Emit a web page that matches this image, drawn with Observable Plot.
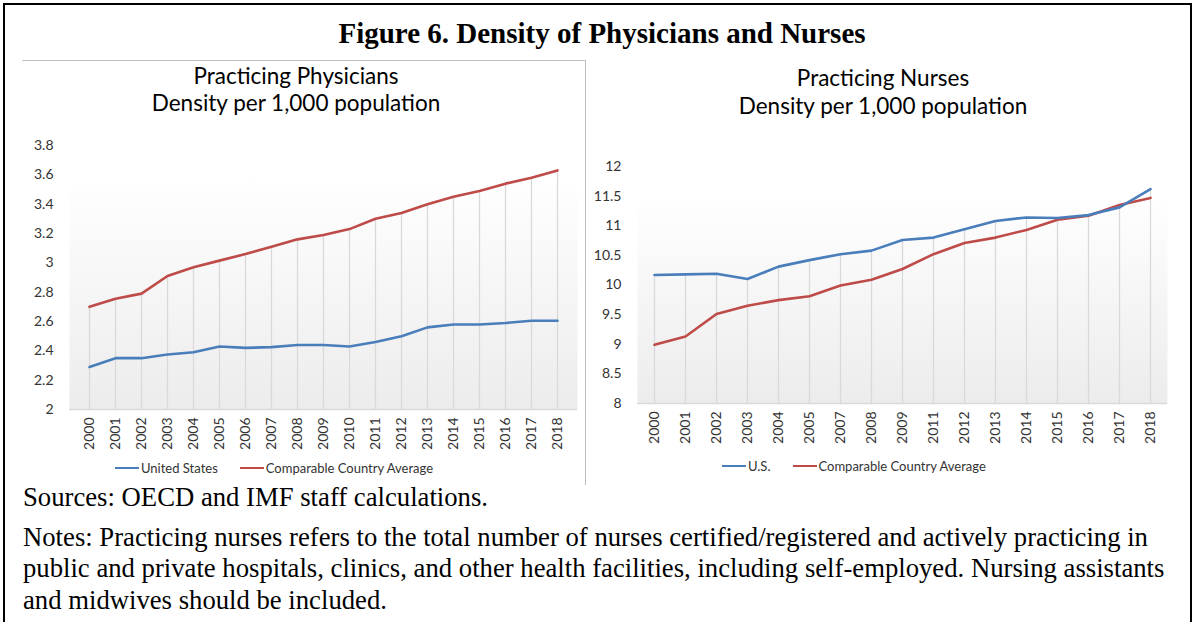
<!DOCTYPE html>
<html><head><meta charset="utf-8">
<script src="https://cdn.jsdelivr.net/npm/d3@7"></script>
<script src="https://cdn.jsdelivr.net/npm/@observablehq/plot@0.6"></script>
<style>
body{margin:0;background:#fff;}
#root{position:relative;width:1194px;height:622px;overflow:hidden;font-family:Lato,"Open Sans",sans-serif;background:#fff;}
.abs{position:absolute;}
.frame{position:absolute;left:3px;top:3px;width:1185px;height:660px;border:2.5px solid #000;}
.title{font-family:"Liberation Serif","Times New Roman",serif;font-weight:bold;font-size:29px;line-height:30px;text-align:center;color:#000;white-space:nowrap;}
.sub{font-size:22.5px;text-align:center;color:#000;white-space:nowrap;}
.note{font-family:"Liberation Serif","Times New Roman",serif;font-size:26.7px;line-height:32px;color:#000;white-space:nowrap;}
.legend{display:flex;align-items:center;font-size:13px;color:#333;white-space:nowrap;}
.legend .sw{display:inline-block;width:24px;height:2.5px;margin-right:2px;}
.legend .item{display:flex;align-items:center;margin-right:22px;}
</style></head><body><div id="root">
<div class="frame"></div>
<div class="abs title" style="left:202px;top:18px;width:800px;">Figure 6. Density of Physicians and Nurses</div>
<div class="abs" style="left:22px;top:60px;width:563px;height:424px;border-top:1px solid #bfbfbf;border-right:1px solid #bfbfbf;"></div>
<div class="abs sub" style="left:96px;top:62px;width:400px;line-height:27px;">Practicing Physicians<br>Density per 1,000 population</div>
<div class="abs sub" style="left:683px;top:64px;width:400px;line-height:28px;">Practicing Nurses<br>Density per 1,000 population</div>
<div id="left" class="abs" style="left:22px;top:130px;"></div>
<div id="right" class="abs" style="left:590px;top:150px;"></div>
<div id="legL" class="abs legend" style="left:115px;top:459px;height:18px;"></div>
<div id="legR" class="abs legend" style="left:722px;top:457px;height:18px;"></div>
<div class="abs note" style="left:23px;top:481px;">Sources: OECD and IMF staff calculations.</div>
<div class="abs note" style="left:23px;top:521px;">Notes: Practicing nurses refers to the total number of nurses certified/registered and actively practicing in</div>
<div class="abs note" style="left:23px;top:552px;">public and private hospitals, clinics, and other health facilities, including self-employed. Nursing assistants</div>
<div class="abs note" style="left:23px;top:584px;">and midwives should be included.</div>
</div>
<script>
// ---- Data ----
const physYears = ["2000","2001","2002","2003","2004","2005","2006","2007","2008","2009","2010","2011","2012","2013","2014","2015","2016","2017","2018"];
const physUS  = [2.29,2.35,2.35,2.375,2.39,2.43,2.42,2.425,2.44,2.44,2.43,2.46,2.50,2.56,2.58,2.58,2.59,2.605,2.605];
const physAvg = [2.70,2.755,2.79,2.91,2.97,3.015,3.06,3.11,3.16,3.19,3.23,3.30,3.34,3.40,3.45,3.49,3.54,3.58,3.63];
const physTicks = [2,2.2,2.4,2.6,2.8,3,3.2,3.4,3.6,3.8];

const nurseYears = ["2000","2001","2002","2003","2004","2005","2007","2008","2009","2011","2012","2013","2014","2015","2016","2017","2018"];
const nurseUS  = [10.17,10.18,10.19,10.10,10.31,10.42,10.52,10.58,10.76,10.80,10.94,11.08,11.14,11.13,11.18,11.31,11.62];
const nurseAvg = [8.99,9.13,9.51,9.65,9.745,9.81,9.99,10.09,10.27,10.52,10.71,10.80,10.93,11.10,11.17,11.35,11.47];
const nurseTicks = [8,8.5,9,9.5,10,10.5,11,11.5,12];

const physLabels = ["United States","Comparable Country Average"];
const nurseLabels = ["U.S.","Comparable Country Average"];
const BLUE = "#4a7ebb", RED = "#be4b48";

function chart({years, us, avg, ticks, width, height, margins, gradId}) {
  const lo = ticks[0], hi = ticks[ticks.length-1];
  const usRows = years.map((y,i)=>({year:y, value:us[i]}));
  const avgRows = years.map((y,i)=>({year:y, value:avg[i]}));
  const drop = years.map((y,i)=>({year:y, top:Math.max(us[i],avg[i])}));
  const svg = Plot.plot({
    width, height,
    marginLeft: margins[3], marginRight: margins[1], marginTop: margins[0], marginBottom: margins[2],
    style:{fontFamily:"Lato, 'Open Sans', sans-serif", fontSize:"14px", color:"#333", background:"transparent", overflow:"visible"},
    x:{type:"point", domain:years, padding:0.5, label:null, tickSize:0, tickPadding:8, tickRotate:-90},
    y:{domain:[lo,hi], ticks, tickFormat:d=>String(d), label:null, tickSize:0, tickPadding:16},
    marks:[
      Plot.frame({fill:`url(#${gradId})`, stroke:"none"}),
      Plot.ruleX(drop, {x:"year", y1:lo, y2:"top", stroke:"#d9d9d9", strokeWidth:1.3}),
      Plot.ruleY([lo], {stroke:"#d9d9d9", strokeWidth:1.3}),
      Plot.line(avgRows, {x:"year", y:"value", stroke:RED, strokeWidth:2.6}),
      Plot.line(usRows, {x:"year", y:"value", stroke:BLUE, strokeWidth:2.6})
    ]
  });
  svg.insertAdjacentHTML("afterbegin",
    `<defs><linearGradient id="${gradId}" x1="0" y1="0" x2="0" y2="1">
      <stop offset="0" stop-color="#ffffff"/><stop offset="0.12" stop-color="#ffffff"/><stop offset="1" stop-color="#ececec"/>
    </linearGradient></defs>`);
  return svg;
}

document.getElementById("left").append(chart({
  years:physYears, us:physUS, avg:physAvg, ticks:physTicks,
  width:564, height:330, margins:[15,9,51,47], gradId:"gL"
}));
document.getElementById("right").append(chart({
  years:nurseYears, us:nurseUS, avg:nurseAvg, ticks:nurseTicks,
  width:586, height:305, margins:[16,9,52,47], gradId:"gR"
}));

function legend(el, labels) {
  [BLUE, RED].forEach((c,i)=>{
    const it = document.createElement("span"); it.className="item";
    const sw = document.createElement("span"); sw.className="sw"; sw.style.background=c;
    const t = document.createElement("span"); t.textContent = labels[i];
    it.append(sw, t); el.append(it);
  });
}
legend(document.getElementById("legL"), physLabels);
legend(document.getElementById("legR"), nurseLabels);
</script>
</body></html>
